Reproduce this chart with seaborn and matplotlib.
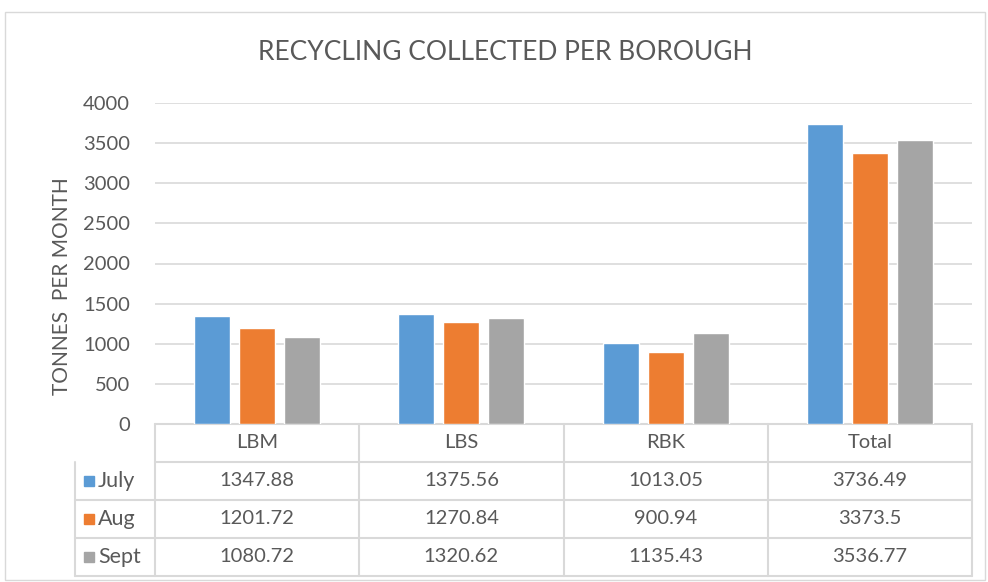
import pandas as pd
import matplotlib.pyplot as plt
import seaborn as sns
from matplotlib.patches import Rectangle

categories = ['LBM', 'LBS', 'RBK', 'Total']
months = ['July', 'Aug', 'Sept']
july = [1347.88, 1375.56, 1013.05, 3736.49]
aug = [1201.72, 1270.84, 900.94, 3373.5]
sept = [1080.72, 1320.62, 1135.43, 3536.77]
colors = ['#5B9BD5', '#ED7D31', '#A5A5A5']

series = {'July': july, 'Aug': aug, 'Sept': sept}
df = pd.DataFrame([
    {'Borough': c, 'Month': m, 'Tonnes': v}
    for m in months for c, v in zip(categories, series[m])
])

sns.set_style('white')
plt.rcParams['font.family'] = ['Lato', 'DejaVu Sans']
text_col = '#595959'
line_col = '#D9D9D9'

fig = plt.figure(figsize=(9.88, 5.82), dpi=100)
W, H = 988, 582
ax = fig.add_axes([155 / W, 1 - 424 / H, (972 - 155) / W, (424 - 103) / H])

sns.barplot(data=df, x='Borough', y='Tonnes', hue='Month', order=categories,
            hue_order=months, palette=colors, width=0.66, gap=0.2,
            saturation=1, ax=ax, legend=False, zorder=3)

ax.set_xlim(-0.5, 3.5)
ax.set_ylim(0, 4000)
ax.set_yticks(range(0, 4001, 500))
ax.yaxis.grid(True, color=line_col, linewidth=1.2, zorder=0)
ax.set_xticks([])
ax.set_xlabel('')
ax.set_ylabel('TONNES  PER MONTH', fontsize=15, color=text_col, labelpad=8, y=0.43)
ax.tick_params(axis='y', labelsize=14.5, labelcolor=text_col, length=0, pad=18)
for s in ax.spines.values():
    s.set_visible(False)

fig.text(505 / W, 1 - 52 / H, 'RECYCLING COLLECTED PER BOROUGH',
         fontsize=19, color=text_col, ha='center', va='center')

# data table under the axis
trans = ax.get_xaxis_transform()
r = 38 / 321
leg_left = (75 - 155) / 204 - 0.5
kw = dict(transform=trans, clip_on=False, color=line_col, linewidth=1.5)
ax.plot([-0.5, 3.5], [0, 0], **kw)
for i in range(1, 5):
    x0 = leg_left if i > 1 else -0.5
    ax.plot([x0, 3.5], [-i * r, -i * r], **kw)
for b in [-0.5, 0.5, 1.5, 2.5, 3.5]:
    ax.plot([b, b], [0, -4 * r], **kw)
ax.plot([leg_left, leg_left], [-r, -4 * r], **kw)

for j, c in enumerate(categories):
    ax.text(j, -0.5 * r, c, transform=trans, ha='center', va='center',
            fontsize=14.5, color=text_col)
for i, m in enumerate(months):
    yc = -(i + 1.5) * r
    for j, v in enumerate(series[m]):
        ax.text(j, yc, f'{v:g}', transform=trans, ha='center', va='center',
                fontsize=14.5, color=text_col)
    sq_w, sq_h = 10 / 204, 10 / 321
    ax.add_patch(Rectangle(((84 - 155) / 204 - 0.5, yc - sq_h / 2), sq_w, sq_h,
                           transform=trans, clip_on=False, color=colors[i]))
    ax.text((98 - 155) / 204 - 0.5, yc, m, transform=trans, ha='left', va='center',
            fontsize=15.5, color=text_col)

# chart border
fig.add_artist(Rectangle((5 / W, 1 - 580 / H), 980 / W, 568 / H, transform=fig.transFigure,
                         fill=False, edgecolor=line_col, linewidth=1))

fig.savefig('out.png', dpi=100)
